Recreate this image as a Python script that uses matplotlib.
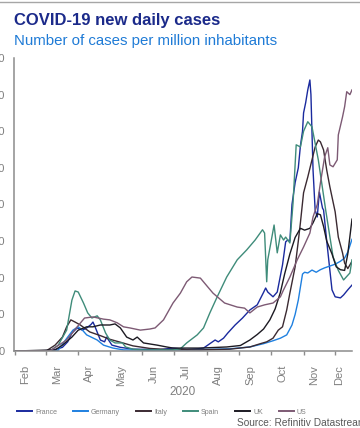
import numpy as np
import matplotlib.pyplot as plt
import matplotlib.dates as mdates

plt.rcParams['font.family'] = ['Liberation Sans', 'DejaVu Sans']

# days counted from 2020-02-01, values = new daily cases per million
france_days = [0, 30, 38, 45, 50, 54, 59, 64, 68, 72, 74, 76, 81, 85, 87, 92, 100, 112, 138, 150, 163, 173, 179, 183, 190,
               193, 198, 202, 209, 216, 223, 230, 236, 238, 240, 245, 249, 254, 257, 259, 261, 263, 266, 269, 271, 273,
               274, 276, 278, 280, 281, 283, 285, 287, 289, 292, 293, 296, 299, 301, 304, 309, 312, 316, 320]
france_vals = [0, 1, 4, 10, 25, 49, 63, 57, 63, 72, 79, 66, 30, 25, 38, 16, 10, 5, 4, 8, 4, 6, 8, 16, 30,
               25, 35, 49, 71, 90, 112, 126, 160, 172, 161, 148, 161, 235, 298, 303, 300, 400, 460, 500, 560, 600,
               650, 678, 713, 740, 700, 494, 385, 366, 434, 390, 385, 300, 220, 167, 148, 145, 153, 167, 180]

germany_days = [0, 30, 41, 43, 50, 55, 60, 64, 68, 78, 84, 93, 103, 128, 157, 176, 204, 223, 236, 245, 252, 258, 263,
                266, 269, 273, 275, 278, 282, 286, 290, 294, 299, 304, 309, 313, 316, 320]
germany_vals = [0, 0, 2, 11, 38, 57, 66, 57, 44, 30, 16, 8, 3, 2, 3, 4, 6, 11, 20, 28, 35, 44, 71,
                100, 139, 210, 215, 213, 221, 215, 222, 227, 232, 237, 245, 254, 270, 305]

italy_days = [0, 20, 30, 38, 45, 49, 53, 57, 62, 71, 81, 90, 100, 112, 128, 144, 176, 204, 223, 233, 239, 245, 250,
              254, 258, 261, 266, 269, 271, 274, 278, 282, 285, 288, 290, 293, 296, 299, 304, 307, 311, 313, 316, 320]
italy_vals = [0, 0, 1, 16, 38, 66, 85, 79, 71, 52, 42, 32, 24, 14, 7, 4, 3, 5, 11, 20, 25, 35, 57,
              66, 112, 158, 230, 300, 350, 432, 475, 522, 557, 576, 571, 549, 494, 448, 380, 311, 268, 240, 225, 245]

spain_days = [0, 33, 41, 49, 54, 57, 60, 65, 69, 73, 78, 81, 86, 90, 95, 102, 105, 112, 122, 150, 157, 163, 173, 179,
              185, 192, 201, 211, 220, 228, 235, 237, 239, 240, 246, 249, 252, 255, 257, 261, 264, 267, 271, 274, 278,
              282, 288, 295, 302, 307, 312, 318, 320]
spain_vals = [0, 0, 16, 57, 139, 164, 161, 131, 104, 90, 96, 85, 49, 30, 22, 22, 11, 5, 3, 3, 6, 22, 44, 63,
              104, 148, 202, 249, 276, 303, 331, 322, 189, 249, 344, 268, 317, 303, 311, 295, 404, 563, 557, 600, 626,
              612, 522, 385, 257, 220, 194, 213, 249]

uk_days = [0, 38, 45, 54, 60, 68, 74, 81, 90, 95, 100, 106, 112, 116, 122, 135, 144, 150, 176, 201, 214, 223, 230,
           236, 242, 247, 252, 256, 261, 266, 271, 275, 280, 283, 287, 290, 293, 296, 301, 305, 309, 313, 316, 320]
uk_vals = [0, 3, 16, 38, 57, 66, 66, 71, 71, 74, 63, 38, 30, 38, 22, 16, 11, 8, 8, 11, 15, 30, 45,
           60, 85, 115, 160, 210, 265, 310, 335, 330, 335, 350, 375, 372, 340, 300, 265, 230, 222, 220, 265, 360]

us_days = [0, 33, 49, 59, 66, 74, 84, 90, 97, 103, 109, 119, 128, 133, 141, 150, 157, 163, 168, 176, 183, 188, 199,
           211, 218, 223, 230, 237, 245, 252, 255, 261, 268, 274, 280, 283, 287, 290, 294, 297, 299, 302, 306, 307,
           311, 313, 315, 318, 320]
us_vals = [0, 0, 30, 66, 90, 93, 87, 85, 77, 66, 63, 57, 60, 63, 85, 131, 158, 189, 202, 199, 175, 158, 131,
           120, 117, 104, 120, 126, 131, 148, 167, 202, 249, 284, 322, 366, 400, 459, 530, 555, 508, 503, 522, 590,
           639, 667, 708, 700, 713]

countries = ["France", "Germany", "Italy", "Spain", "UK", "US"]
colors = ["#1a2a9e", "#1f80e0", "#3b2a32", "#3f8c7a", "#1c1a22", "#7d5a74"]
month_names = ["Feb", "Mar", "Apr", "May", "Jun", "Jul", "Aug", "Sep", "Oct", "Nov", "Dec"]
yticks = [0, 100, 200, 300, 400, 500, 600, 700, 800]

series = [(france_days, france_vals), (germany_days, germany_vals), (italy_days, italy_vals),
          (spain_days, spain_vals), (uk_days, uk_vals), (us_days, us_vals)]

base = mdates.date2num(np.datetime64("2020-02-01"))
month_starts = [mdates.date2num(np.datetime64("2020-%02d-01" % m)) for m in range(2, 13)]
x_end = base + 320

W, H = 360, 428
fig = plt.figure(figsize=(W / 100, H / 100), dpi=100)
ax = fig.add_axes([14 / W, 1 - 351 / H, (352 - 14) / W, (351 - 58) / H])

handles = []
for (d, v), name, c in zip(series, countries, colors):
    ln, = ax.plot(base + np.array(d), v, color=c, lw=1.0, label=name)
    handles.append(ln)

grey = "#8c8c8c"
ax.set_xlim(base - 1, x_end)
ax.set_ylim(0, 800)
ax.set_yticks(yticks)
ax.tick_params(axis="y", length=0, pad=6.5, labelsize=8, labelcolor="#7f7f7f")
for s in ["top", "right"]:
    ax.spines[s].set_visible(False)
for s in ["left", "bottom"]:
    ax.spines[s].set_color(grey)
    ax.spines[s].set_linewidth(1.1)

# month ticks at month starts, labels roughly centred in each month
ax.set_xticks(month_starts)
ax.set_xticklabels([])
ax.tick_params(axis="x", which="major", length=3, width=1, color=grey, direction="out")
ends = month_starts[1:] + [x_end]
label_pos = [(a + b) / 2 - 4.5 for a, b in zip(month_starts, ends)]
ax.set_xticks(label_pos, minor=True)
ax.set_xticklabels(month_names, minor=True, rotation=90, fontsize=8, color="#7f7f7f")
ax.tick_params(axis="x", which="minor", length=0, pad=10)

fig.text(183 / W, 1 - 392 / H, "2020", ha="center", va="center", fontsize=8.5, color="#7f7f7f")

fig.text(14 / W, 1 - 24.5 / H, "COVID-19 new daily cases", fontsize=12, weight="bold",
         color="#1b2a8a", va="baseline")
fig.text(14 / W, 1 - 44.5 / H, "Number of cases per million inhabitants", fontsize=10.8,
         color="#1f7bd6", va="baseline")
fig.add_artist(plt.Line2D([0, 1], [1 - 2 / H] * 2, color="#a6a6a6", lw=1, transform=fig.transFigure))

leg = fig.legend(handles=handles, labels=countries, loc="center left", bbox_to_anchor=(17 / W, 1 - 412 / H),
                 ncol=6, frameon=False, fontsize=5, handlelength=2.2, handletextpad=0.4, columnspacing=2.3,
                 borderpad=0, borderaxespad=0, labelcolor="#7f7f7f")
for l in leg.get_lines():
    l.set_linewidth(1.4)

fig.text(237 / W, 1 - 423 / H, "Source: Refinitiv Datastream", fontsize=7.3, color="#595959", va="center")

fig.savefig("out.png", dpi=100)
